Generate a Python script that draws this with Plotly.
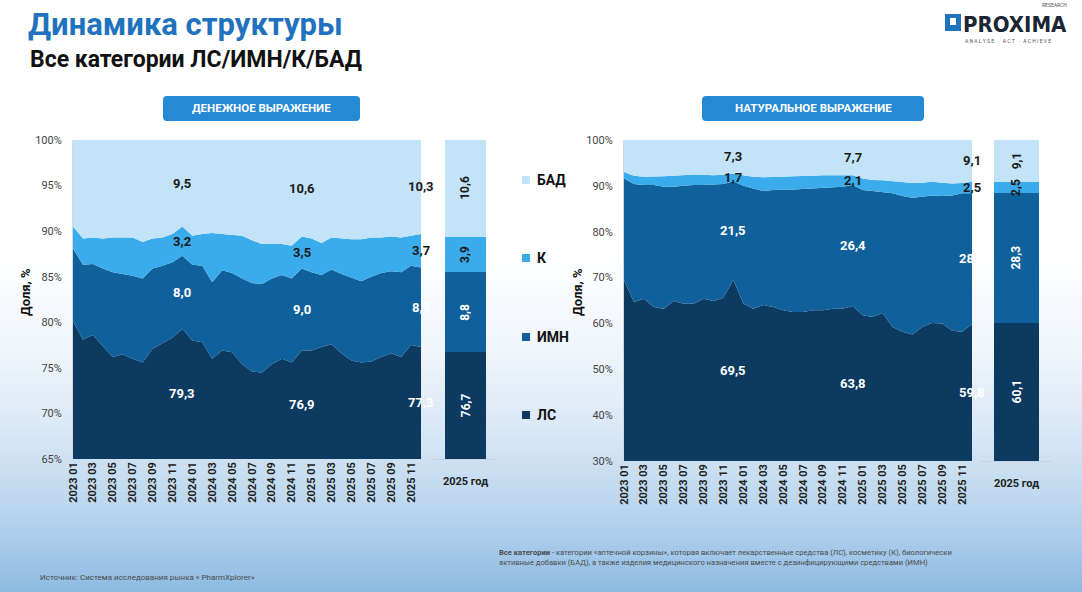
import plotly.graph_objects as go

PAGE_W, PAGE_H = 1082, 592
OFF = 0                      # body margin is removed by the post script
W, H = PAGE_W - 2 * OFF, PAGE_H - 2 * OFF

# ---------------- data ----------------
months = [f"{y} {m:02d}" for y in (2023, 2024, 2025) for m in range(1, 13)]
tick_months = months[::2]
series_names = ["ЛС", "ИМН", "К", "БАД"]

# Денежное выражение, доля %, помесячно
money_ls = [80.1, 78.1, 78.6, 77.4, 76.2, 76.5, 76.0, 75.6, 77.1, 77.7, 78.3, 79.3,
            78.0, 77.8, 76.0, 76.9, 76.7, 75.4, 74.6, 74.5, 75.4, 76.0, 75.6, 76.9,
            76.9, 77.3, 77.6, 76.6, 75.8, 75.6, 75.7, 76.2, 76.6, 76.2, 77.5, 77.3]
money_imn = [8.0, 8.2, 7.8, 8.5, 9.3, 8.8, 9.1, 9.2, 8.8, 8.5, 8.3, 8.0,
             8.3, 8.4, 8.4, 8.8, 8.7, 9.4, 9.7, 9.7, 9.4, 9.2, 9.2, 9.0,
             8.6, 7.9, 8.2, 8.7, 9.1, 8.9, 9.3, 9.2, 9.0, 9.3, 8.7, 8.7]
money_k = [2.4, 2.9, 2.9, 3.3, 3.8, 4.0, 4.2, 4.0, 3.3, 3.1, 3.1, 3.2,
           3.2, 3.5, 5.4, 4.0, 4.2, 4.7, 4.7, 4.4, 3.8, 3.4, 3.6, 3.5,
           3.7, 3.5, 3.5, 3.9, 4.2, 4.6, 4.3, 3.9, 3.8, 3.8, 3.3, 3.7]
money_bad = [9.5, 10.8, 10.7, 10.8, 10.7, 10.7, 10.7, 11.2, 10.8, 10.7, 10.3, 9.5,
             10.5, 10.3, 10.2, 10.3, 10.4, 10.5, 11.0, 11.4, 11.4, 11.4, 11.6, 10.6,
             10.8, 11.3, 10.7, 10.8, 10.9, 10.9, 10.7, 10.7, 10.6, 10.7, 10.5, 10.3]

# Натуральное выражение, доля %, помесячно
units_ls = [69.4, 64.7, 65.4, 63.6, 63.2, 64.9, 64.3, 64.3, 65.4, 64.9, 65.6, 69.5,
            64.3, 63.2, 64.0, 63.6, 62.9, 62.5, 62.5, 62.9, 62.9, 63.2, 63.2, 63.8,
            61.8, 61.4, 62.3, 59.2, 58.2, 57.6, 59.2, 60.1, 60.0, 58.4, 58.2, 59.8]
units_imn = [22.2, 25.7, 24.8, 26.6, 26.6, 24.9, 25.7, 25.9, 24.8, 25.4, 24.8, 21.5,
             25.7, 26.2, 24.9, 25.5, 26.2, 26.7, 26.8, 26.5, 26.7, 26.5, 26.6, 26.4,
             27.3, 27.5, 26.4, 29.2, 29.6, 29.8, 28.4, 27.8, 27.8, 29.5, 30.2, 28.6]
units_k = [1.4, 1.8, 1.8, 1.8, 2.3, 2.4, 2.3, 2.3, 2.2, 2.0, 2.0, 1.7,
           2.3, 2.6, 3.0, 2.8, 2.9, 2.9, 2.8, 2.8, 2.7, 2.6, 2.6, 2.1,
           2.5, 2.4, 2.5, 2.6, 3.0, 3.2, 3.1, 3.0, 2.9, 2.6, 2.2, 2.5]
units_bad = [7.0, 7.8, 8.0, 8.0, 7.9, 7.8, 7.7, 7.5, 7.6, 7.7, 7.6, 7.3,
             7.7, 8.0, 8.1, 8.1, 8.0, 7.9, 7.9, 7.8, 7.7, 7.7, 7.6, 7.7,
             8.4, 8.7, 8.8, 9.0, 9.2, 9.4, 9.3, 9.1, 9.3, 9.5, 9.4, 9.1]

# Годовые итоги 2025
bar_category = ["2025 год"]
money_2025 = [76.7, 8.8, 3.9, 10.6]
units_2025 = [60.1, 28.3, 2.5, 9.1]

# Месяцы с подписями значений (декабри)
label_months = ["2023 12", "2024 12", "2025 12"]

# ---------------- styles ----------------
colors = ["#0c3a61", "#10609c", "#3aaceb", "#c3e4f8"]
label_colors = ["#ffffff", "#ffffff", "#1a1a1a", "#1a1a1a"]
FONT = "Roboto, 'Open Sans', Arial, sans-serif"


def px(x):
    """page pixel x -> paper fraction"""
    return (x - OFF) / W


def py(y):
    """page pixel y -> paper fraction"""
    return 1 - (y - OFF) / H


def fmt(v):
    return f"{v:.1f}".replace(".", ",")


def note(x, y, text, size, color, weight="normal", xanchor="center", family=FONT, **kw):
    return dict(x=px(x), y=py(y), xref="paper", yref="paper", text=text, showarrow=False,
                xanchor=xanchor, yanchor="middle",
                font=dict(family=family, size=size, color=color, weight=weight), **kw)


fig = go.Figure()

panels = [
    dict(series=[money_ls, money_imn, money_k, money_bad], bar=money_2025,
         xa="x", ya="y", xb="x2", yb="y2", ymin=65, ymax=100, dtick=5,
         dom_a=(73, 421), dom_b=(433, 498), ydom=(140, 459), grp="money"),
    dict(series=[units_ls, units_imn, units_k, units_bad], bar=units_2025,
         xa="x3", ya="y3", xb="x4", yb="y4", ymin=30, ymax=100, dtick=10,
         dom_a=(624, 972), dom_b=(981, 1052), ydom=(140, 461), grp="units"),
]

annotations = []
shapes = []

for p in panels:
    for name, vals, col in zip(series_names, p["series"], colors):
        fig.add_trace(go.Scatter(
            x=months, y=vals, name=name, mode="lines", stackgroup=p["grp"],
            line=dict(width=0, color=col), fillcolor=col, xaxis=p["xa"], yaxis=p["ya"],
            showlegend=False, hoverinfo="skip"))
    for name, v, col in zip(series_names, p["bar"], colors):
        fig.add_trace(go.Bar(
            x=bar_category, y=[v], name=name, marker=dict(color=col, line=dict(width=0)),
            width=0.62, xaxis=p["xb"], yaxis=p["yb"], showlegend=False, hoverinfo="skip"))

    # labels on area chart (band midpoints)
    for m in label_months:
        i = months.index(m)
        vals = [s[i] for s in p["series"]]
        cum = 0
        for k, v in enumerate(vals):
            bottom = max(cum, p["ymin"])
            top = cum + v
            cum = top
            annotations.append(dict(
                x=m, y=(bottom + top) / 2, xref=p["xa"], yref=p["ya"], text=fmt(v),
                showarrow=False, xanchor="center", yanchor="middle",
                font=dict(family=FONT, size=13, color=label_colors[k], weight="bold")))
    # labels on bar
    cum = 0
    for k, v in enumerate(p["bar"]):
        bottom = max(cum, p["ymin"])
        top = cum + v
        cum = top
        annotations.append(dict(
            x=bar_category[0], y=(bottom + top) / 2, xref=p["xb"], yref=p["yb"],
            text=fmt(v), textangle=-90, showarrow=False, xanchor="center", yanchor="middle",
            font=dict(family=FONT, size=12, color=label_colors[k], weight="bold")))

# ---------------- axes ----------------
common_y = dict(showgrid=False, zeroline=False, ticks="", automargin=False,
                tickfont=dict(family=FONT, size=11, color="#444444"))
xa_font = dict(family=FONT, size=11, color="#222222", weight="bold")

layout_axes = {}
for n, p in zip((1, 3), panels):
    xs = "xaxis" if n == 1 else f"xaxis{n}"
    ys = "yaxis" if n == 1 else f"yaxis{n}"
    layout_axes[xs] = dict(domain=[px(p["dom_a"][0]), px(p["dom_a"][1])], type="category",
                           range=[0, 35], tickvals=tick_months, ticktext=tick_months,
                           tickangle=-90, tickfont=xa_font, showgrid=False, ticks="",
                           showline=False, anchor=p["ya"], automargin=False)
    layout_axes[ys] = dict(domain=[py(p["ydom"][1]), py(p["ydom"][0])],
                           range=[p["ymin"], p["ymax"]], dtick=p["dtick"], tick0=p["ymin"],
                           ticksuffix="%", showline=True, linecolor="#cfd9e3", linewidth=1,
                           ticklabelstandoff=8, anchor=p["xa"], **common_y)
    xb = f"xaxis{n + 1}"
    yb = f"yaxis{n + 1}"
    layout_axes[xb] = dict(domain=[px(p["dom_b"][0]), px(p["dom_b"][1])], type="category",
                           tickfont=xa_font, showgrid=False, ticks="", showline=True,
                           linecolor="#c9d2dc", linewidth=1, ticklabelstandoff=12,
                           anchor=p["yb"], automargin=False)
    layout_axes[yb] = dict(domain=[py(p["ydom"][1]), py(p["ydom"][0])],
                           range=[p["ymin"], p["ymax"]], visible=False, anchor=p["xb"],
                           automargin=False)

# ---------------- background gradient ----------------
stops = [(0, (255, 255, 255)), (250, (255, 255, 255)), (350, (239, 245, 251)),
         (430, (218, 232, 245)), (500, (190, 216, 239)), (560, (160, 198, 232)),
         (592, (140, 186, 224))]


def grad_color(y):
    for (y0, c0), (y1, c1) in zip(stops[:-1], stops[1:]):
        if y0 <= y <= y1:
            t = (y - y0) / (y1 - y0) if y1 > y0 else 0
            return "rgb(%d,%d,%d)" % tuple(round(a + (b - a) * t) for a, b in zip(c0, c1))
    return "rgb(140,186,224)"


step = 6
for y0 in range(240, PAGE_H, step):
    shapes.append(dict(type="rect", xref="paper", yref="paper", x0=px(0), x1=px(PAGE_W),
                       y0=py(y0 + step + 1), y1=py(y0), line=dict(width=0),
                       fillcolor=grad_color(y0 + step / 2), layer="below"))

css_gradient = "linear-gradient(to bottom, " + ", ".join(
    "rgb(%d,%d,%d) %.1f%%" % (c + (100 * y / PAGE_H,)) for y, c in stops) + ")"


def rounded_rect(x0, y0, x1, y1, r):
    X, Y = px, py
    return (f"M {X(x0 + r)},{Y(y0)} L {X(x1 - r)},{Y(y0)} "
            f"Q {X(x1)},{Y(y0)} {X(x1)},{Y(y0 + r)} L {X(x1)},{Y(y1 - r)} "
            f"Q {X(x1)},{Y(y1)} {X(x1 - r)},{Y(y1)} L {X(x0 + r)},{Y(y1)} "
            f"Q {X(x0)},{Y(y1)} {X(x0)},{Y(y1 - r)} L {X(x0)},{Y(y0 + r)} "
            f"Q {X(x0)},{Y(y0)} {X(x0 + r)},{Y(y0)} Z")


# header boxes
for (x0, x1, txt) in [(163, 360, "ДЕНЕЖНОЕ ВЫРАЖЕНИЕ"), (702, 924, "НАТУРАЛЬНОЕ ВЫРАЖЕНИЕ")]:
    shapes.append(dict(type="path", xref="paper", yref="paper",
                       path=rounded_rect(x0, 96, x1, 121, 4),
                       fillcolor="#2589d6", line=dict(width=0)))
    annotations.append(note((x0 + x1) / 2, 108.5, txt, 11.5, "#ffffff", "bold"))

# legend (squares + labels)
for name, col, yy in zip(series_names, colors, [415, 337, 258, 180]):
    shapes.append(dict(type="rect", xref="paper", yref="paper", x0=px(522), x1=px(530),
                       y0=py(yy + 4), y1=py(yy - 4), fillcolor=col, line=dict(width=0)))
    annotations.append(note(535, yy, name, 14, "#111111", "bold", xanchor="left"))

# y-axis titles
for xx in (25, 577):
    annotations.append(note(xx, 292, "Доля, %", 13, "#111111", "bold", textangle=-90))

# titles
annotations.append(note(27, 24, "Динамика структуры", 31, "#1f72bd", "bold", xanchor="left",
                        borderpad=0))
annotations.append(note(28, 59, "Все категории ЛС/ИМН/К/БАД", 23, "#111111", "bold",
                        xanchor="left"))

# logo
shapes.append(dict(type="rect", xref="paper", yref="paper", x0=px(945), x1=px(961),
                   y0=py(31), y1=py(14), fillcolor="#1d74bd", line=dict(width=0)))
shapes.append(dict(type="rect", xref="paper", yref="paper", x0=px(950), x1=px(956),
                   y0=py(25), y1=py(18), fillcolor="#ffffff", line=dict(width=0)))
annotations.append(note(962, 24, "PROXIMA", 22, "#1b2533", "bold", xanchor="left",
                        family="'DejaVu Sans Condensed', 'Liberation Sans Narrow', sans-serif",
                        borderpad=0))
annotations.append(note(1068, 5, "RESEARCH", 5, "#555555", xanchor="right", borderpad=0))
annotations.append(note(1008, 41, "A N A L Y S E   ·   A C T   ·   A C H I E V E", 5,
                        "#555555"))

# footnotes
annotations.append(note(38, 577, "Источник: Система исследования рынка « PharmXplorer»", 8,
                        "#4a4a4a", xanchor="left"))
annotations.append(note(497, 557,
                        ("<b>Все категории</b> - категории «аптечной корзины», которая включает "
                         "лекарственные средства (ЛС), косметику (К), биологически<br>"
                         "активные добавки (БАД), а также изделия медицинского назначения "
                         "вместе с дезинфицирующими средствами (ИМН)"),
                        7.6, "#4a4a4a", xanchor="left", align="left"))

fig.update_layout(
    width=W, height=H, margin=dict(l=0, r=0, t=0, b=0, pad=0, autoexpand=False),
    autosize=False,
    paper_bgcolor="rgba(0,0,0,0)", plot_bgcolor="rgba(0,0,0,0)",
    barmode="stack", showlegend=False, font=dict(family=FONT),
    annotations=annotations, shapes=shapes, **layout_axes)

fig.write_html(
    "out.html",
    config={"responsive": False, "displayModeBar": False, "staticPlot": True},
    post_script=("document.body.style.margin='0';"
                 "document.body.style.overflow='hidden';"
                 "document.documentElement.style.background='%s';"
                 "document.body.style.background='transparent';" % css_gradient))
